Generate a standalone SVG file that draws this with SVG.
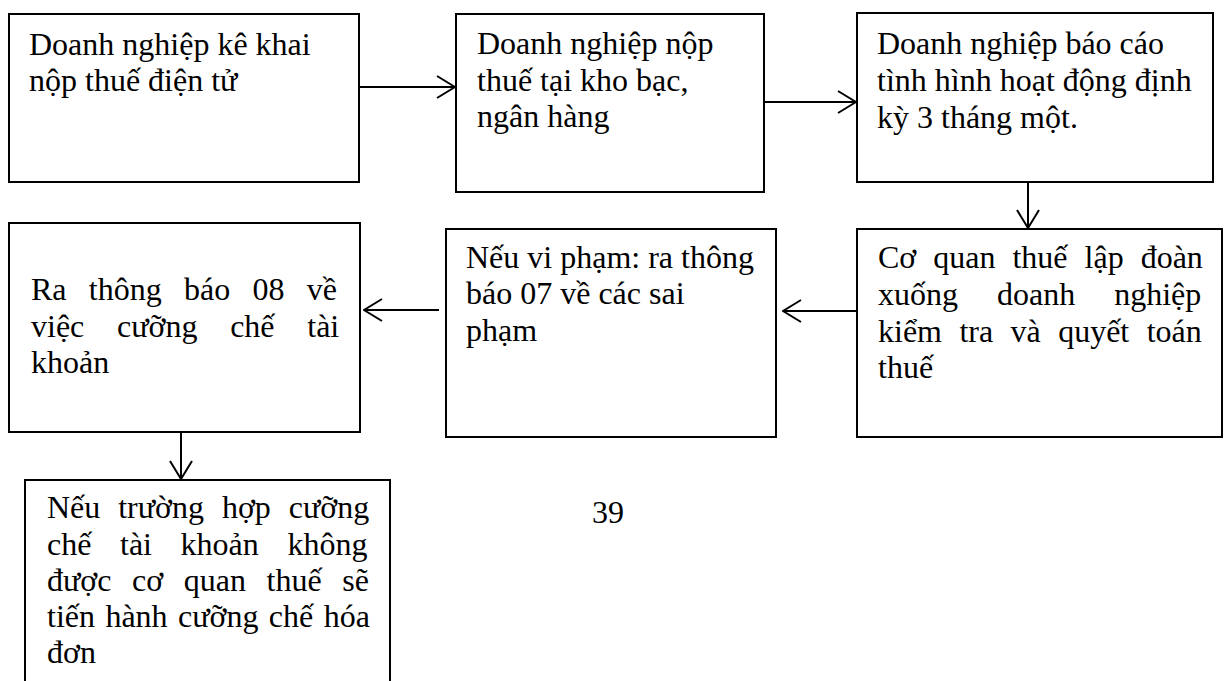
<svg xmlns="http://www.w3.org/2000/svg" width="1224" height="681" viewBox="0 0 1224 681">
<defs>
<style>
.box{fill:#fff;stroke:#000;stroke-width:2}
.t{font-family:"Liberation Serif","Times New Roman",serif;font-size:32px;fill:#000}
.c{stroke:#000;stroke-width:2;fill:none}
</style>
<marker id="ah" viewBox="0 0 20 24" refX="19" refY="12" markerWidth="20" markerHeight="24" markerUnits="userSpaceOnUse" orient="auto">
<path d="M1,1 L19,12 L1,23" fill="none" stroke="#000" stroke-width="2"/>
</marker>
</defs>
<rect width="1224" height="681" fill="#fff"/>
<g id="connectors">
<line class="c" x1="359" y1="87" x2="455" y2="87" marker-end="url(#ah)"/>
<line class="c" x1="764" y1="102" x2="856" y2="102" marker-end="url(#ah)"/>
<line class="c" x1="1028" y1="182" x2="1028" y2="228" marker-end="url(#ah)"/>
<line class="c" x1="857" y1="311" x2="783" y2="311" marker-end="url(#ah)"/>
<line class="c" x1="439" y1="310" x2="364" y2="310" marker-end="url(#ah)"/>
<line class="c" x1="181" y1="432" x2="181" y2="479" marker-end="url(#ah)"/>
</g>
<g id="n1">
<rect class="box" x="9" y="14" width="350" height="168"/>
<text class="t" x="29" y="55">Doanh nghiệp kê khai</text>
<text class="t" x="29" y="91">nộp thuế điện tử</text>
</g>
<g id="n2">
<rect class="box" x="456" y="14" width="308" height="178"/>
<text class="t" x="477" y="54">Doanh nghiệp nộp</text>
<text class="t" x="477" y="91">thuế tại kho bạc,</text>
<text class="t" x="477" y="127">ngân hàng</text>
</g>
<g id="n3">
<rect class="box" x="857" y="13" width="356" height="169"/>
<text class="t" x="877" y="54">Doanh nghiệp báo cáo</text>
<text class="t" x="877" y="91">tình hình hoạt động định</text>
<text class="t" x="877" y="128">kỳ 3 tháng một.</text>
</g>
<g id="n4">
<rect class="box" x="857" y="229" width="365" height="208"/>
<text class="t" x="878" y="268" style="word-spacing:9px">Cơ quan thuế lập đoàn</text>
<text class="t" x="878" y="305" style="word-spacing:31px">xuống doanh nghiệp</text>
<text class="t" x="878" y="342" style="word-spacing:9.4px">kiểm tra và quyết toán</text>
<text class="t" x="878" y="378">thuế</text>
</g>
<g id="n5">
<rect class="box" x="446" y="229" width="330" height="208"/>
<text class="t" x="466" y="268">Nếu vi phạm: ra thông</text>
<text class="t" x="466" y="304">báo 07 về các sai</text>
<text class="t" x="466" y="341">phạm</text>
</g>
<g id="n6">
<rect class="box" x="9" y="223" width="351" height="209"/>
<text class="t" x="31" y="300" style="word-spacing:14.3px">Ra thông báo 08 về</text>
<text class="t" x="31" y="337" style="word-spacing:24.7px">việc cưỡng chế tài</text>
<text class="t" x="31" y="373">khoản</text>
</g>
<g id="n7">
<rect class="box" x="25" y="480" width="365" height="220"/>
<text class="t" x="47" y="518" style="word-spacing:9.9px">Nếu trường hợp cưỡng</text>
<text class="t" x="47" y="555" style="word-spacing:20.6px">chế tài khoản không</text>
<text class="t" x="47" y="591" style="word-spacing:12.6px">được cơ quan thuế sẽ</text>
<text class="t" x="47" y="627" style="word-spacing:2.4px">tiến hành cưỡng chế hóa</text>
<text class="t" x="47" y="663">đơn</text>
</g>
<text class="t" x="592" y="523">39</text>
</svg>
